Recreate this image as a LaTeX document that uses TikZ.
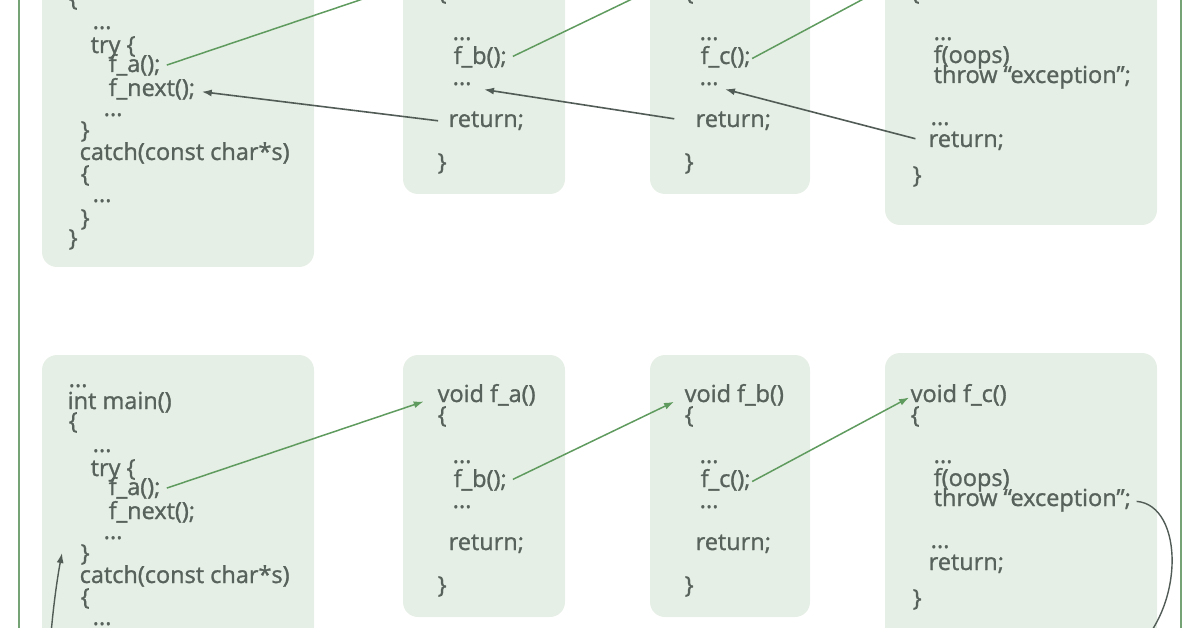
\documentclass[tikz,border=0pt]{standalone}
\usepackage{fontspec}
\setmainfont{Open Sans}
\newfontfamily\codefont{Open Sans}[FakeBold=1.2]
\usetikzlibrary{arrows.meta}

\definecolor{boxfill}{HTML}{E6EFE5}
\definecolor{codegray}{HTML}{58625C}
\definecolor{callgreen}{HTML}{5F9B5E}
\definecolor{retgray}{HTML}{525C57}
\definecolor{framegreen}{HTML}{76A375}

\tikzset{
  code/.style={anchor=base west, inner sep=0.5pt, text=codegray,
    font=\codefont\fontsize{23.5}{28}\selectfont, text height=12pt, text depth=2pt},
  codebox/.style={fill=boxfill, rounded corners=15pt},
  call/.style={draw=callgreen, line width=1.5pt, -{Latex[length=10pt,width=7pt]}},
  ret/.style={draw=retgray, line width=1.6pt, -{Latex[length=10pt,width=7pt]}},
}

\begin{document}
\begin{tikzpicture}[x=1pt,y=-1pt]
    \useasboundingbox (0,0) rectangle (1196,628);
    \clip (0,0) rectangle (1196,628);

    % Outer frame
    \draw[framegreen, line width=1.8pt] (19,-20) rectangle (1181,660);

    % Two panels with the same code, the top one moved up
    \foreach \p/\s in {top/423, bot/0} {
    \begin{scope}[yshift=\s pt]
    % Boxes
    \fill[codebox] (42,355) rectangle (314,690);  % main
    \fill[codebox] (403,355) rectangle (565,617); % f_a
    \fill[codebox] (650,355) rectangle (810,617); % f_b
    \fill[codebox] (885,353) rectangle (1157,648); % f_c

    % main
    \node[code] (\p-mdots0) at (68,387) {...};
    \node[code] (\p-mhead) at (67,409) {int main()};
    \node[code] (\p-mopen) at (68,429) {\{};
    \node[code] (\p-mdots1) at (92,452) {...};
    \node[code] (\p-mtry) at (90,476) {try \{};
    \node[code] (\p-mfa) at (108,495) {f\_a();};
    \node[code] (\p-mnext) at (108,519) {f\_next();};
    \node[code] (\p-mdots2) at (103,539) {...};
    \node[code] (\p-mtryend) at (80,561) {\}};
    \node[code] (\p-mcatch) at (79,583) {catch(const char*s)};
    \node[code] (\p-mcopen) at (80,605) {\{};
    \node[code] (\p-mdots3) at (92,625) {...};
    \node[code] (\p-mcend) at (80,649) {\}};
    \node[code] (\p-mend) at (68,669) {\}};

    % f_a
    \node[code] (\p-ahead) at (437,402) {void f\_a()};
    \node[code] (\p-aopen) at (437,423) {\{};
    \node[code] (\p-adots1) at (452,463) {...};
    \node[code] (\p-afb) at (453,487) {f\_b();};
    \node[code] (\p-adots2) at (452,508) {...};
    \node[code] (\p-aret) at (448,550) {return;};
    \node[code] (\p-aend) at (437,593) {\}};

    % f_b
    \node[code] (\p-bhead) at (684,402) {void f\_b()};
    \node[code] (\p-bopen) at (684,423) {\{};
    \node[code] (\p-bdots1) at (699,463) {...};
    \node[code] (\p-bfc) at (700,487) {f\_c();};
    \node[code] (\p-bdots2) at (699,508) {...};
    \node[code] (\p-bret) at (695,550) {return;};
    \node[code] (\p-bend) at (684,593) {\}};

    % f_c
    \node[code] (\p-chead) at (910,402) {void f\_c()};
    \node[code] (\p-copen) at (910,423) {\{};
    \node[code] (\p-cdots1) at (933,463) {...};
    \node[code] (\p-coops) at (933,486) {f(oops)};
    \node[code] (\p-cthrow) at (933,506) {throw “exception”;};
    \node[code] (\p-cdots2) at (930,548) {...};
    \node[code] (\p-cret) at (928,570) {return;};
    \node[code] (\p-cend) at (912,606) {\}};

    % Calls
    \draw[call, shorten <=6pt, shorten >=14pt] (\p-mfa.east) -- (\p-ahead.west);
    \draw[call, shorten <=6pt, shorten >=11pt] (\p-afb.east) -- (\p-bhead.west);
    \draw[call, shorten <=1pt, shorten >=1pt] (\p-bfc.east) -- (\p-chead.west);
    \end{scope}
    }

    % Normal returns (top)
    \draw[ret, shorten <=10pt, shorten >=6pt] (top-aret.west) -- (top-mnext.east);
    \draw[ret, shorten <=21pt, shorten >=12pt] (top-bret.west) -- (top-adots2.south east);
    \draw[ret, shorten <=13pt, shorten >=6pt] (top-cret.west) -- (top-bdots2.south east);

    % Exception path (bottom)
    \coordinate (loopR) at (1130,655);
    \coordinate (loopL) at (48,680);
    \draw[ret, line width=1.4pt, shorten <=5pt] (bot-cthrow.east)
        .. controls (1184,505) and (1186,610) .. (loopR) -- (loopL)
        .. controls (50,630) and (56,585) .. ([xshift=-18pt,yshift=3pt]bot-mtryend.west);
\end{tikzpicture}
\end{document}
